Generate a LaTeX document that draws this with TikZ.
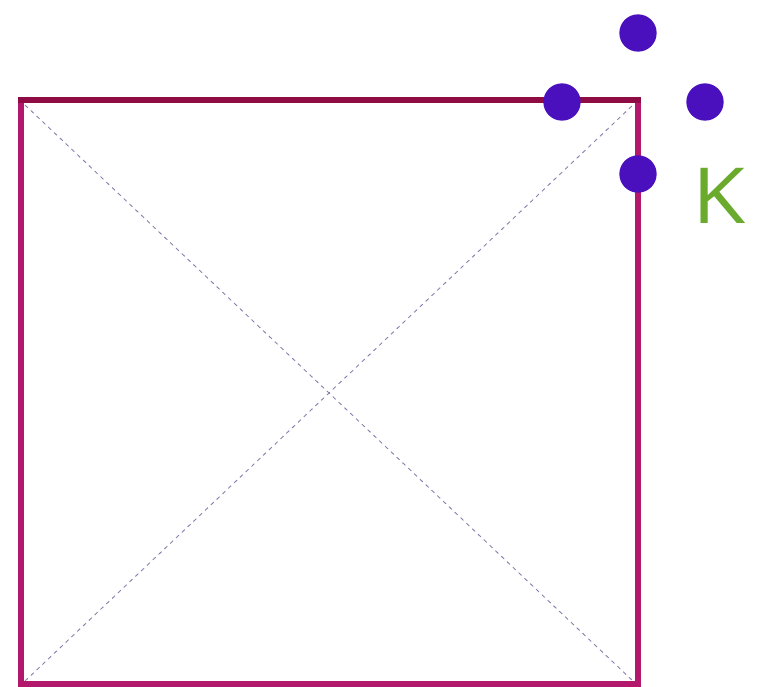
\documentclass[tikz,border=0pt]{standalone}
\usepackage{fontspec}
\newfontfamily\kfont{Open Sans}
\definecolor{topedge}{HTML}{8E0B43}
\definecolor{sideedge}{HTML}{B3186C}
\definecolor{dotcol}{HTML}{4A10BE}
\definecolor{diagcol}{HTML}{8E80B0}
\definecolor{kcol}{HTML}{6AAA2C}
\begin{document}
\begin{tikzpicture}[x=0.75pt,y=-0.75pt,
  edge/.style={line width=4.5pt},
  diag/.style={draw=diagcol,line width=0.7pt,dash pattern=on 3pt off 3pt},
  dot/.style={circle,fill=dotcol,inner sep=0pt,minimum size=28pt}]
\useasboundingbox (0,0) rectangle (761,686);
\coordinate (tl) at (21,100);
\coordinate (tr) at (638,100);
\coordinate (br) at (638,684);
\coordinate (bl) at (21,684);
\draw[diag] (25,105) -- (633,681);
\draw[diag] (25,681) -- (633,105);
\draw[edge,draw=sideedge] (tl) -- (bl) -- (br) -- (tr);
\draw[edge,draw=topedge,line cap=rect] (tl) -- (tr);
\node[dot] (d1) at (638,33) {};
\node[dot] (d2) at (562,102) {};
\node[dot] (d3) at (705,102) {};
\node[dot] (d4) at (638,174) {};
\node[text=kcol,font=\kfont\fontsize{58}{58}\selectfont,inner sep=0pt,anchor=base west,xscale=1.12] (k) at (692,223) {K};
\end{tikzpicture}
\end{document}
